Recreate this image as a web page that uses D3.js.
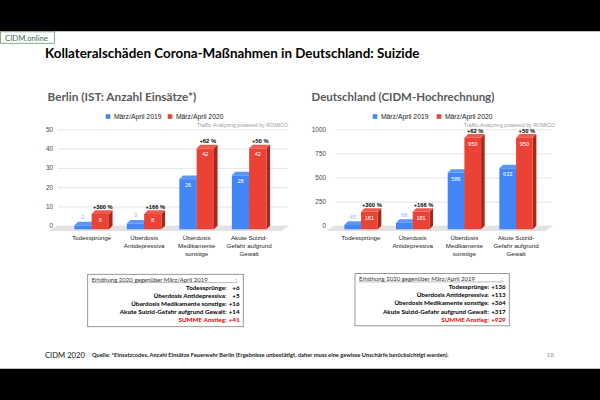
<!DOCTYPE html>
<html><head><meta charset="utf-8">
<script src="https://cdn.jsdelivr.net/npm/d3@7"></script>
<style>html,body{margin:0;padding:0;background:#fff;}svg{display:block;}</style>
</head><body>
<svg id="c" width="600" height="400"></svg>
<script>
// ---- data ----
const categories = [["Todessprünge"],["Überdosis","Antidepressiva"],["Überdosis","Medikamente","sonstige"],["Akute Suizid-","Gefahr aufgrund","Gewalt"]];
const seriesNames = ["März/April 2019","März/April 2020"];
const berlin2019 = [2,3,26,28];
const berlin2020 = [8,8,42,42];
const berlinPct = ["+300 %","+166 %","+62 %","+50 %"];
const berlinTicks = [0,10,20,30,40,50];
const de2019 = [45,68,586,633];
const de2020 = [181,181,950,950];
const dePct = ["+300 %","+166 %","+62 %","+50 %"];
const deTicks = [0,250,500,750,1000];
const boxHeader = "Erhöhung 2020 gegenüber März/April 2019";
const boxLabels = ["Todessprünge:","Überdosis Antidepressiva:","Überdosis Medikamente sonstige:","Akute Suizid-Gefahr aufgrund Gewalt:"];
const sumLabel = "SUMME Anstieg:";
const berlinDiff = ["+6","+5","+16","+14"];
const berlinSum = "+41";
const deDiff = ["+136","+113","+364","+317"];
const deSum = "+929";

const title = "Kollateralschäden Corona-Maßnahmen in Deutschland: Suizide";
const subBerlin = "Berlin (IST: Anzahl Einsätze*)";
const subDE = "Deutschland (CIDM-Hochrechnung)";
const romico = "Traffic-Analyzing powered by ROMICO";
const footerLeft = "CIDM 2020";
const footerSource = "Quelle: *Einsatzcodes, Anzahl Einsätze Feuerwehr Berlin (Ergebnisse unbestätigt, daher muss eine gewisse Unschärfe berücksichtigt werden).";
const pageNo = "18";

// ---- drawing ----
const svg = d3.select("#c");
const CAL = "Lato, 'Open Sans', sans-serif";
const ARI = "'Liberation Sans', Arial, sans-serif";

function fit(sel, target){
  const n = sel.node(); const w = n.getComputedTextLength();
  const fs = parseFloat(sel.attr("font-size"));
  sel.attr("font-size", (fs*target/w).toFixed(2));
  return sel;
}

svg.append("rect").attr("width",600).attr("height",400).attr("fill","#fff");
svg.append("rect").attr("x",0).attr("y",0).attr("width",600).attr("height",31.25).attr("fill","#000");
svg.append("rect").attr("x",0).attr("y",368.75).attr("width",600).attr("height",31.25).attr("fill","#000");

// CIDM.online badge
svg.append("rect").attr("x",0.5).attr("y",31.8).attr("width",54).attr("height",11.5)
  .attr("fill","#fff").attr("stroke","#5f9f6f").attr("stroke-width",0.8);
fit(svg.append("text").attr("x",5).attr("y",40.6).attr("font-family",CAL).attr("font-size",8)
  .attr("fill","#2f6f4f").text("CIDM.online"), 43);

// title
fit(svg.append("text").attr("x",45).attr("y",58.3).attr("font-family",CAL).attr("font-weight","bold")
  .attr("font-size",15).attr("fill","#000").text(title), 375);
fit(svg.append("text").attr("x",47.5).attr("y",101).attr("font-family",CAL).attr("font-weight","bold")
  .attr("font-size",11).attr("fill","#595959").text(subBerlin), 149);
fit(svg.append("text").attr("x",311.5).attr("y",101).attr("font-family",CAL).attr("font-weight","bold")
  .attr("font-size",11).attr("fill","#595959").text(subDE), 183);

const DX = 3.6, DY = 3.6;
const COL = {
  b:{front:"#4285f4", top:"#5b97f6", side:"#2f62c9"},
  r:{front:"#ea4335", top:"#ef5a4c", side:"#a8261b"}
};

function drawChart(o){
  const g = svg.append("g");
  const x = d3.scaleBand().domain(d3.range(categories.length)).range(o.xRange).padding(0);
  const y = d3.scaleLinear().domain([0, o.max]).range([225.7, 129.3]);
  const y0 = y(0);

  // grid + axis labels
  const axis = d3.axisLeft(y).tickValues(o.ticks).tickFormat(d3.format("d"))
    .tickSize(-(o.grid[1]-o.grid[0])).tickPadding(o.tickPad);
  const ag = g.append("g").attr("transform",`translate(${o.grid[0]},0)`).call(axis);
  ag.select(".domain").remove();
  ag.selectAll(".tick line").attr("stroke","#dedede").attr("stroke-width",0.8);
  ag.selectAll(".tick text").attr("font-family",ARI).attr("font-size",6.4).attr("fill","#444");

  // floor
  g.append("polygon").attr("fill","#e2e2e2")
    .attr("points",[[o.grid[0]-1,y0],[o.grid[1]+1,y0],[o.grid[1]-2*DX,y0+DY*1.5],[o.grid[0]-2*DX-2,y0+DY*1.5]].map(p=>p.join(",")).join(" "));

  function bar(x0, w, v, c){
    const yt = y(v);
    g.append("polygon").attr("fill",c.side)
      .attr("points",[[x0+w,yt+DY],[x0+w+DX,yt],[x0+w+DX,y0],[x0+w,y0+DY]].map(p=>p.join(",")).join(" "));
    g.append("polygon").attr("fill",c.top)
      .attr("points",[[x0,yt+DY],[x0+DX,yt],[x0+w+DX,yt],[x0+w,yt+DY]].map(p=>p.join(",")).join(" "));
    g.append("rect").attr("x",x0).attr("y",yt+DY).attr("width",w).attr("height",y0-yt).attr("fill",c.front);
  }
  function valLabel(cx, v, inside, color){
    const yt = y(v);
    g.append("text").attr("x",cx).attr("y", inside ? yt+DY+7.8 : yt-2.5)
      .attr("text-anchor","middle").attr("font-family",ARI).attr("font-size",5.6)
      .attr("fill",color).text(v);
  }

  categories.forEach((cat,i)=>{
    const c = x(i) + x.bandwidth()/2;
    const w = o.barW;
    bar(c-w, w, o.s0[i], COL.b);
    bar(c, w, o.s1[i], COL.r);
    const bIn = (y0 - y(o.s0[i])) > 12;
    valLabel(c-w/2, o.s0[i], bIn, bIn ? "#ffffff" : "#8fb5f7");
    valLabel(c+w/2, o.s1[i], true, "#ffffff");
    g.append("text").attr("x",c+w/2+2.5).attr("y",y(o.s1[i])-1.3).attr("text-anchor","middle")
      .attr("font-family",ARI).attr("font-weight","bold").attr("font-size",5.8).attr("fill","#000")
      .text(o.pct[i]);
    cat.forEach((line,k)=>{
      g.append("text").attr("x",c).attr("y",239.6+k*8).attr("text-anchor","middle")
        .attr("font-family",ARI).attr("font-size",6.2).attr("fill","#222").text(line);
    });
  });

  // legend
  [[o.leg[0],COL.b.front,seriesNames[0]],[o.leg[1],COL.r.front,seriesNames[1]]].forEach(([lx,col,name])=>{
    g.append("rect").attr("x",lx).attr("y",114.2).attr("width",4.6).attr("height",4.6).attr("fill",col);
    g.append("text").attr("x",lx+8.2).attr("y",118.9).attr("font-family",ARI).attr("font-size",6.8)
      .attr("fill","#222").text(name);
  });
  g.append("text").attr("x",o.romicoRight).attr("y",127.4).attr("text-anchor","end")
    .attr("font-family",ARI).attr("font-size",5.3).attr("fill","#9a9a9a").text(romico);
}

drawChart({xRange:[65.4,275.4], max:50, ticks:berlinTicks, grid:[58,288], tickPad:5,
  barW:17.3, s0:berlin2019, s1:berlin2020, pct:berlinPct, leg:[105.7,167.7], romicoRight:288});
drawChart({xRange:[335.2,541.9], max:1000, ticks:deTicks, grid:[335,552], tickPad:9,
  barW:16.7, s0:de2019, s1:de2020, pct:dePct, leg:[372.7,436.7], romicoRight:555});

// summary boxes
function drawBox(bx, by, bw, bh, diffs, sum, labelRight, longW){
  const g = svg.append("g");
  g.append("rect").attr("x",bx).attr("y",by).attr("width",bw).attr("height",bh)
    .attr("fill","#fff").attr("stroke","#7f7f7f").attr("stroke-width",0.8);
  const h = fit(g.append("text").attr("x",bx+4).attr("y",by+7.3).attr("font-family",CAL)
    .attr("font-size",5.6).attr("fill","#333").text(boxHeader), 116);
  g.append("line").attr("x1",bx+4).attr("x2",bx+bw-6).attr("y1",by+8.3).attr("y2",by+8.3)
    .attr("stroke","#555").attr("stroke-width",0.4);
  g.append("text").attr("x",bx+bw-6.5).attr("y",by+7.3).attr("text-anchor","end").attr("font-family",CAL)
    .attr("font-size",5.6).attr("fill","#333").text(":");
  // font size from the longest label
  const probe = fit(g.append("text").attr("font-family",CAL).attr("font-weight","bold")
    .attr("font-size",6).text(boxLabels[3]), longW);
  const fs = probe.attr("font-size"); probe.remove();
  const rows = boxLabels.map((l,i)=>[l,diffs[i],"#000"]).concat([[sumLabel,sum,"#e00000"]]);
  rows.forEach(([l,v,col],i)=>{
    const yy = by + 15.3 + i*8.2;
    g.append("text").attr("x",bx+bw-labelRight).attr("y",yy).attr("text-anchor","end").attr("font-family",CAL)
      .attr("font-weight","bold").attr("font-size",fs).attr("fill",col).text(l);
    g.append("text").attr("x",bx+bw-3.6).attr("y",yy).attr("text-anchor","end").attr("font-family",CAL)
      .attr("font-weight","bold").attr("font-size",fs).attr("fill",col).text(v);
  });
}
drawBox(87.7, 274.3, 155.6, 52.4, berlinDiff, berlinSum, 16.6, 107);
drawBox(355, 273.6, 154.3, 52.2, deDiff, deSum, 20.3, 106);

// footer
fit(svg.append("text").attr("x",45).attr("y",357.5).attr("font-family",CAL).attr("font-size",9)
  .attr("fill","#111").text(footerLeft), 40);
fit(svg.append("text").attr("x",92).attr("y",356.5).attr("font-family",CAL).attr("font-weight","bold")
  .attr("font-size",5).attr("fill","#222").text(footerSource), 357);
svg.append("text").attr("x",554).attr("y",357).attr("text-anchor","end").attr("font-family",CAL)
  .attr("font-size",6.5).attr("fill","#999").text(pageNo);
</script>
</body></html>
